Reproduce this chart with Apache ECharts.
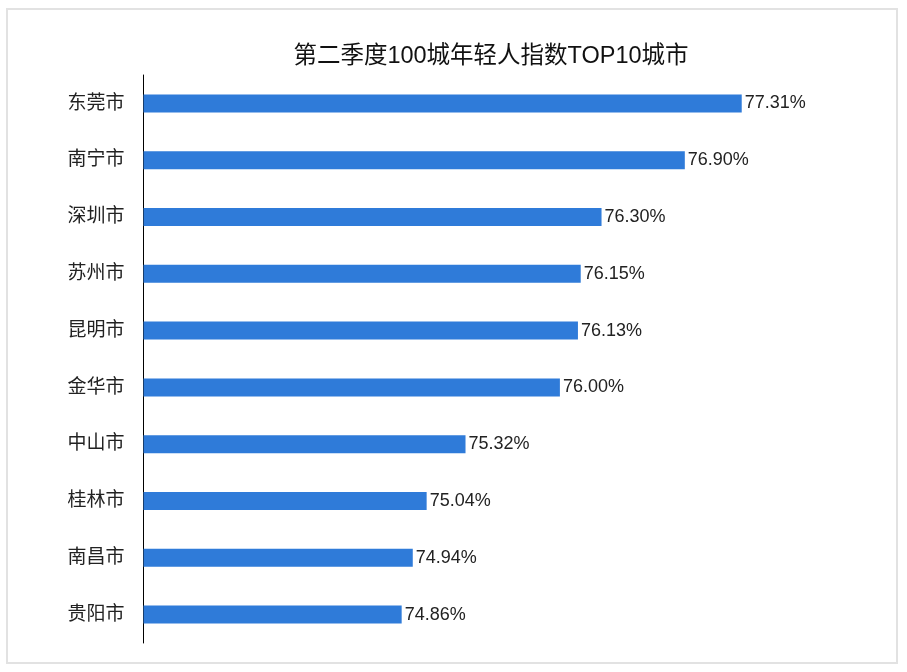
<!DOCTYPE html>
<html>
<head>
<meta charset="utf-8">
<script src="https://cdn.jsdelivr.net/npm/echarts@6/dist/echarts.min.js"></script>
<style>
    html, body { margin: 0; padding: 0; background: #fff; }
    #main { width: 907px; height: 672px; }
    #frame {
        position: absolute; left: 6px; top: 8px; width: 888px; height: 652px;
        border: 2px solid #e2e2e2; pointer-events: none;
    }
</style>
</head>
<body>
<div id="main"></div>
<div id="frame"></div>
<script>
let titleText = "第二季度100城年轻人指数TOP10城市";
let cities = ["东莞市", "南宁市", "深圳市", "苏州市", "昆明市", "金华市", "中山市", "桂林市", "南昌市", "贵阳市"];
let values = [77.31, 76.90, 76.30, 76.15, 76.13, 76.00, 75.32, 75.04, 74.94, 74.86];

let fontFamily = "'Liberation Sans', 'Noto Sans CJK SC', sans-serif";

let chart = echarts.init(document.getElementById("main"));
let option = {
    animation: false,
    textStyle: {
        fontFamily: fontFamily
    },
    title: {
        text: titleText,
        left: 486,
        textAlign: "center",
        top: 40,
        textStyle: {
            fontSize: 23.5,
            fontWeight: "normal",
            color: "#111",
            fontFamily: fontFamily
        }
    },
    grid: {
        left: 143.5,
        right: 69.5,
        top: 75,
        height: 568,
        containLabel: false
    },
    xAxis: {
        type: "value",
        min: 73,
        max: 78,
        show: false,
        splitLine: {
            show: false
        }
    },
    yAxis: {
        type: "category",
        inverse: true,
        data: cities,
        axisLine: {
            show: true,
            lineStyle: {
                color: "#000",
                width: 1
            }
        },
        axisTick: {
            show: false
        },
        axisLabel: {
            margin: 19,
            fontSize: 19,
            color: "#222",
            fontFamily: fontFamily,
            padding: [2, 0, 0, 0]
        }
    },
    series: [
        {
            type: "bar",
            data: values,
            barWidth: 18,
            itemStyle: {
                color: "#2f7bd9"
            },
            label: {
                show: true,
                position: "right",
                distance: 3,
                fontSize: 18,
                color: "#222",
                fontFamily: fontFamily,
                padding: [2, 0, 0, 0],
                formatter: function (p) {
                    return p.value.toFixed(2) + "%";
                }
            }
        }
    ]
};
chart.setOption(option);
</script>
</body>
</html>
